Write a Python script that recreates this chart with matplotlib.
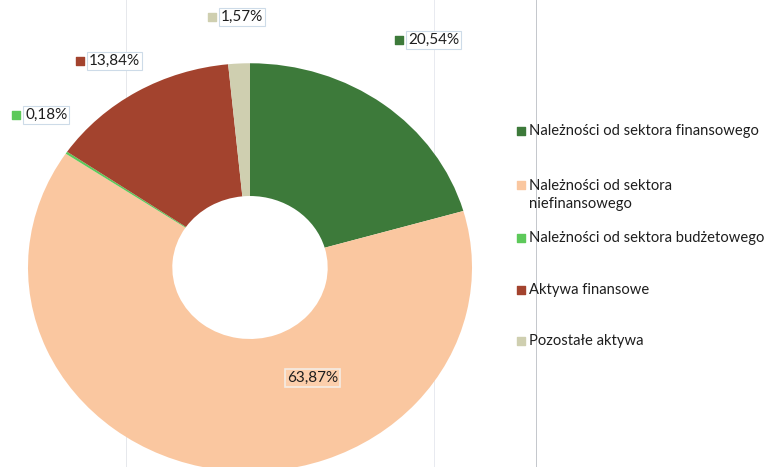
import matplotlib.pyplot as plt

categories = ["Należności od sektora finansowego",
              "Należności od sektora\nniefinansowego",
              "Należności od sektora budżetowego",
              "Aktywa finansowe",
              "Pozostałe aktywa"]
values = [20.54, 63.87, 0.18, 13.84, 1.57]
labels = ["20,54%", "63,87%", "0,18%", "13,84%", "1,57%"]
colors = ["#3d7a3a", "#fac7a0", "#5dc95a", "#a3432e", "#cfcfb0"]

plt.rcParams['font.family'] = ['Lato', 'DejaVu Sans']

W, H = 768, 467
SY = 0.92  # vertical squash of the scanned chart
YMAX = H / SY

def py(ytop):
    """pixel-from-top to data y"""
    return (H - ytop) / SY

fig = plt.figure(figsize=(7.68, 4.67), dpi=100)
ax = fig.add_axes([0, 0, 1, 1])

cx, cy, R = 250, py(267.5), 222
ax.pie(values, colors=colors, startangle=90, counterclock=False,
       center=(cx, cy), radius=R, frame=True,
       wedgeprops=dict(width=R * 0.65, edgecolor='none'))
ax.set_aspect('auto')
ax.set_xlim(0, W)
ax.set_ylim(0, YMAX)
ax.axis('off')

# faint scan lines
for xl, c in [(126, '#e6e8ec'), (434, '#e8eaf0'), (536, '#c4c7cc')]:
    ax.plot([xl, xl], [0, YMAX], color=c, lw=0.7, zorder=0)

# data labels
label_pos = [(395, 40), (287, 378), (12, 115), (76, 61), (208, 17)]
show_marker = [True, False, True, True, True]
for lab, col, (x, ytop), sm in zip(labels, colors, label_pos, show_marker):
    y = py(ytop)
    if sm:
        ax.scatter([x + 4], [y], marker='s', s=40, color=col, zorder=5)
        tx = x + 13
        box = dict(boxstyle='square,pad=0.12', fc='white', ec='#cddbe8', lw=0.8)
    else:
        tx = x
        box = dict(boxstyle='square,pad=0.15', fc='#fccfac', ec='#f4ece4', lw=1.2)
    ax.text(tx, y, lab, fontsize=11, color='#1e1e1e', va='center', ha='left', zorder=6,
            bbox=box)

# legend
legend_y = [131, 195, 238, 290, 341]
for cat, col, ytop in zip(categories, colors, legend_y):
    first_line_y = ytop - (10 if '\n' in cat else 0)
    ax.scatter([521], [py(first_line_y)], marker='s', s=40, color=col, zorder=5)
    ax.text(529, py(ytop), cat, fontsize=10.6, color='#1e1e1e', va='center', ha='left',
            linespacing=1.35, zorder=6)

fig.savefig('out.png', dpi=100)
